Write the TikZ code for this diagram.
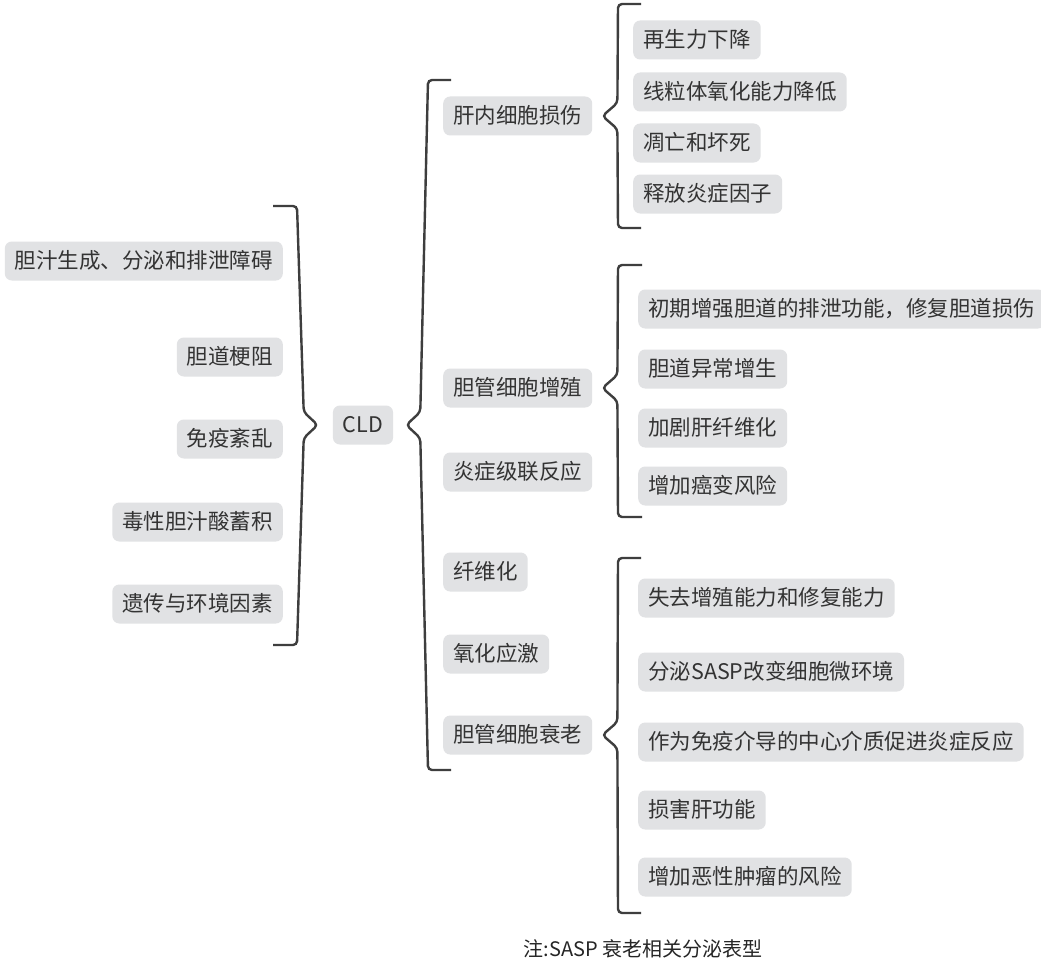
\documentclass[tikz,border=0pt]{standalone}
\usepackage{fontspec}
\setmainfont{Noto Sans CJK SC}
\usetikzlibrary{calc}
\definecolor{boxgray}{RGB}{225,226,228}
\definecolor{textgray}{RGB}{51,51,51}
\definecolor{linegray}{RGB}{62,62,62}
\tikzset{
  box/.style={fill=boxgray,text=textgray,rounded corners=7pt,inner xsep=10pt,
    minimum height=39pt,text height=17.8pt,text depth=3.2pt,
    font=\fontsize{21.5}{26}\selectfont},
  brace/.style={draw=linegray,line width=2.4pt,rounded corners=4pt}
}
\begin{document}
\begin{tikzpicture}[x=1pt,y=-1pt]
\path[use as bounding box,fill=white] (0,0) rectangle (1041,963);
% root
\node[box] (cld) at (363,425) {CLD};
% causes
\node[box,anchor=east] (l1) at (283,261) {胆汁生成、分泌和排泄障碍};
\node[box,anchor=east] (l2) at (283,357) {胆道梗阻};
\node[box,anchor=east] (l3) at (283,439) {免疫紊乱};
\node[box,anchor=east] (l4) at (283,522) {毒性胆汁酸蓄积};
\node[box,anchor=east] (l5) at (283,604) {遗传与环境因素};
% mechanisms
\node[box,anchor=west] (m1) at (443,116) {肝内细胞损伤};
\node[box,anchor=west] (m2) at (443,388) {胆管细胞增殖};
\node[box,anchor=west] (m3) at (443,472) {炎症级联反应};
\node[box,anchor=west] (m4) at (443,572) {纤维化};
\node[box,anchor=west] (m5) at (443,654) {氧化应激};
\node[box,anchor=west] (m6) at (443,735) {胆管细胞衰老};
% liver cell injury
\node[box,anchor=west] (a1) at (633,40) {再生力下降};
\node[box,anchor=west] (a2) at (633,92) {线粒体氧化能力降低};
\node[box,anchor=west] (a3) at (633,143) {凋亡和坏死};
\node[box,anchor=west] (a4) at (633,194) {释放炎症因子};
% proliferation
\node[box,anchor=west] (b1) at (638,309) {初期增强胆道的排泄功能，修复胆道损伤};
\node[box,anchor=west] (b2) at (638,369) {胆道异常增生};
\node[box,anchor=west] (b3) at (638,428) {加剧肝纤维化};
\node[box,anchor=west] (b4) at (638,486) {增加癌变风险};
% senescence
\node[box,anchor=west] (c1) at (638,598) {失去增殖能力和修复能力};
\node[box,anchor=west] (c2) at (638,672) {分泌SASP改变细胞微环境};
\node[box,anchor=west] (c3) at (638,742) {作为免疫介导的中心介质促进炎症反应};
\node[box,anchor=west] (c4) at (638,810) {损害肝功能};
\node[box,anchor=west] (c5) at (638,877) {增加恶性肿瘤的风险};
% braces
\coordinate (tipL) at ($(cld.west)+(-15,0)$);
\coordinate (tipM) at ($(cld.east)+(13,0)$);
\coordinate (tipA) at ($(m1.east)+(10,0)$);
\coordinate (tipB) at ($(m2.east)+(10,0)$);
\coordinate (tipC) at ($(m6.east)+(10,0)$);
\draw[brace] (273,206) -- (297,206) -- ($(tipL)+(-14,-13)$) -- (tipL)
  -- ($(tipL)+(-14,13)$) -- (297,645) -- (273,645);
\draw[brace] (451,80) -- (428,80) -- ($(tipM)+(14,-13)$) -- (tipM)
  -- ($(tipM)+(14,13)$) -- (428,770) -- (451,770);
\draw[brace] (641,4) -- (618,4) -- ($(tipA)+(15,-13)$) -- (tipA)
  -- ($(tipA)+(15,13)$) -- (618,228) -- (641,228);
\draw[brace] (642,265) -- (618,265) -- ($(tipB)+(15,-13)$) -- (tipB)
  -- ($(tipB)+(15,13)$) -- (618,517) -- (642,517);
\draw[brace] (641,558) -- (618,558) -- ($(tipC)+(15,-13)$) -- (tipC)
  -- ($(tipC)+(15,13)$) -- (618,913) -- (641,913);
% note
\node[text=black!85,font=\fontsize{20}{24}\selectfont] (note) at (643,949) {注:SASP 衰老相关分泌表型};
\end{tikzpicture}
\end{document}
